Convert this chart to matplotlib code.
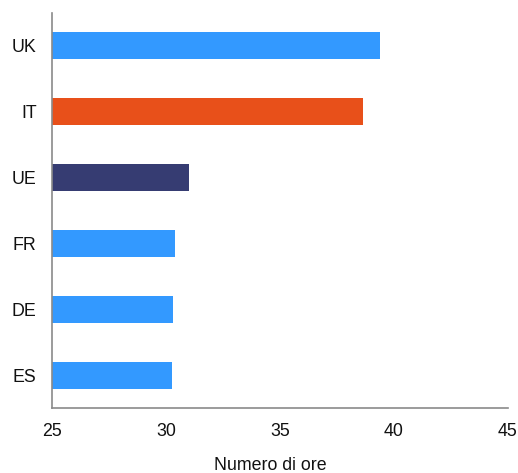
import matplotlib.pyplot as plt

countries = ['UK', 'IT', 'UE', 'FR', 'DE', 'ES']
hours = [39.4, 38.65, 31.0, 30.4, 30.3, 30.25]
bar_colors = ['#3399ff', '#e8501a', '#363c72', '#3399ff', '#3399ff', '#3399ff']
x_ticks = [25, 30, 35, 40, 45]

plt.rcParams['font.family'] = ['Liberation Sans', 'DejaVu Sans']

fig = plt.figure(figsize=(5.18, 4.73), dpi=100)
ax = fig.add_axes([52 / 518, 65 / 473, 456 / 518, 395 / 473])

ax.barh(countries, [h - 25 for h in hours], left=25, height=0.41, color=bar_colors)

ax.set_xlim(25, 45)
ax.set_ylim(5.5, -0.5)
ax.set_xticks(x_ticks)
ax.tick_params(axis='both', length=0, pad=11, labelsize=12.8, colors='#111111')

for side in ['top', 'right']:
    ax.spines[side].set_visible(False)
for side in ['left', 'bottom']:
    ax.spines[side].set_color('#8a8a8a')
    ax.spines[side].set_linewidth(1.2)

ax.set_xlabel('Numero di ore', fontsize=12.8, color='#111111')
ax.xaxis.set_label_coords(0.478, -0.123)

fig.savefig('out.png', dpi=100)
